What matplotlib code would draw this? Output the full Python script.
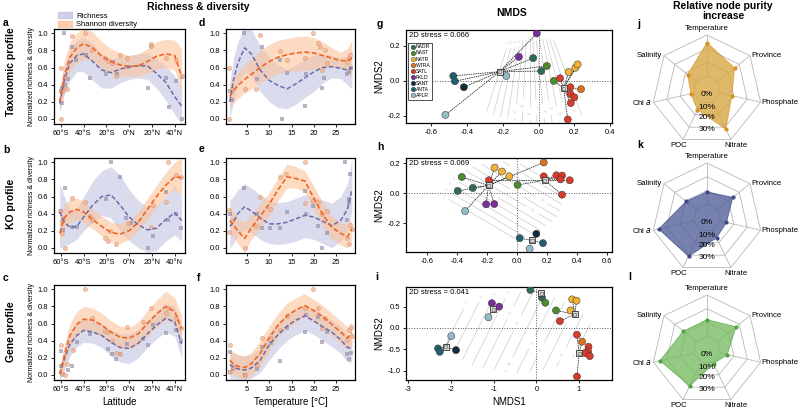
import numpy as np
import matplotlib
matplotlib.use("Agg")
import matplotlib.pyplot as plt
from matplotlib.patches import Patch, Polygon
from matplotlib.lines import Line2D

plt.rcParams['font.family'] = ['Liberation Sans', 'DejaVu Sans']
plt.rcParams['axes.unicode_minus'] = False

# ---------------- data: richness & diversity ----------------
lat_nodes = [-61, -57, -52, -46, -40, -32, -24, -16, -8, 0, 8, 16, 24, 32, 40, 46]
temp_nodes = [1.2, 2, 3, 4.5, 6, 8, 10, 12, 14, 16, 18, 20, 22, 24, 26, 27.5, 28.5]

# panel a (taxonomic, latitude)
a_r_mean = [0.18, 0.45, 0.65, 0.74, 0.76, 0.67, 0.57, 0.54, 0.58, 0.61, 0.62, 0.62, 0.53, 0.43, 0.26, 0.15]
a_r_lo = [0.08, 0.28, 0.45, 0.55, 0.55, 0.45, 0.36, 0.36, 0.42, 0.46, 0.48, 0.46, 0.36, 0.22, 0.05, -0.06]
a_r_hi = [0.32, 0.62, 0.82, 0.92, 0.95, 0.88, 0.76, 0.70, 0.72, 0.74, 0.76, 0.77, 0.70, 0.62, 0.50, 0.38]
a_s_mean = [0.20, 0.50, 0.72, 0.83, 0.88, 0.83, 0.73, 0.67, 0.63, 0.61, 0.62, 0.67, 0.73, 0.76, 0.74, 0.50]
a_s_lo = [0.08, 0.32, 0.55, 0.66, 0.70, 0.68, 0.58, 0.53, 0.50, 0.50, 0.50, 0.53, 0.58, 0.60, 0.57, 0.30]
a_s_hi = [0.32, 0.68, 0.90, 1.00, 1.06, 1.02, 0.90, 0.82, 0.77, 0.74, 0.76, 0.82, 0.90, 0.93, 0.92, 0.82]
a_rich_x = [-60, -59, -59, -56.5, -57, -53.6, -50, -47, -34, -38, -20, -14, -11, -1, 19.5, 16.6, 32.7, 35, 41.5, 46, 46]
a_rich_y = [0.33, 0.36, 0.19, 0.40, 1.00, 0.46, 0.84, 0.69, 0.48, 0.75, 0.53, 0.66, 0.52, 0.61, 0.85, 0.36, 0.48, 0.14, 0.44, 0.00, 0.49]
a_shan_x = [-60, -60, -59.4, -58, -55, -50, -39, -33, -21, -19, -15.5, -11.7, -8, -2, 19.5, 19.5, 32.7, 41.5, 46]
a_shan_y = [0.59, 0.00, 0.33, 0.36, 0.35, 0.97, 1.00, 0.81, 0.71, 0.68, 0.65, 0.50, 0.75, 0.71, 0.88, 0.85, 0.71, 0.69, 0.50]

# panel b (KO, latitude)
b_r_mean = [0.42, 0.30, 0.24, 0.25, 0.36, 0.50, 0.60, 0.62, 0.50, 0.36, 0.27, 0.21, 0.23, 0.33, 0.41, 0.32]
b_r_lo = [0.00, 0.02, 0.05, 0.10, 0.20, 0.30, 0.38, 0.35, 0.20, 0.08, 0.00, -0.05, -0.03, 0.08, 0.15, 0.08]
b_r_hi = [0.75, 0.60, 0.45, 0.45, 0.60, 0.78, 0.90, 0.95, 0.85, 0.68, 0.55, 0.48, 0.50, 0.60, 0.72, 0.60]
b_s_mean = [0.17, 0.35, 0.42, 0.45, 0.42, 0.33, 0.25, 0.18, 0.16, 0.20, 0.30, 0.45, 0.60, 0.73, 0.83, 0.82]
b_s_lo = [0.05, 0.22, 0.30, 0.33, 0.30, 0.22, 0.14, 0.07, 0.05, 0.10, 0.20, 0.33, 0.47, 0.60, 0.68, 0.62]
b_s_hi = [0.30, 0.50, 0.57, 0.58, 0.55, 0.45, 0.37, 0.30, 0.28, 0.32, 0.42, 0.58, 0.73, 0.88, 1.00, 1.05]
b_rich_x = [-60, -56.5, -58, -50.6, -46, -20, -15.6, -8.2, -3, 2, 21, 16.6, 32.7, 34, 41.5, 45.8]
b_rich_y = [0.43, 0.70, 0.21, 0.24, 0.24, 0.57, 1.00, 0.83, 0.35, 0.29, 0.14, 0.00, 0.65, 0.33, 0.40, 0.23]
b_shan_x = [-61, -59.4, -58.8, -56.5, -58, -50, -39, -34.6, -33, -21, -19, -11.7, -17, -1, 19.5, 21, 32.7, 34, 41.5, 45.8]
b_shan_y = [0.43, 0.31, 0.17, 0.00, 0.35, 0.58, 0.54, 0.37, 0.33, 0.12, 0.08, 0.04, 0.20, 0.29, 0.24, 0.50, 0.54, 1.00, 0.85, 0.83]

# panel c (gene, latitude)
c_r_mean = [0.01, 0.18, 0.36, 0.46, 0.52, 0.50, 0.46, 0.38, 0.32, 0.31, 0.37, 0.48, 0.58, 0.66, 0.62, 0.36]
c_r_lo = [-0.05, 0.05, 0.22, 0.33, 0.38, 0.37, 0.32, 0.22, 0.15, 0.13, 0.20, 0.32, 0.42, 0.50, 0.45, 0.20]
c_r_hi = [0.07, 0.32, 0.52, 0.60, 0.66, 0.64, 0.60, 0.52, 0.48, 0.48, 0.53, 0.64, 0.74, 0.83, 0.80, 0.54]
c_s_mean = [0.01, 0.22, 0.46, 0.59, 0.65, 0.64, 0.58, 0.50, 0.44, 0.43, 0.48, 0.60, 0.71, 0.80, 0.74, 0.54]
c_s_lo = [-0.05, 0.10, 0.32, 0.45, 0.52, 0.50, 0.45, 0.37, 0.31, 0.30, 0.35, 0.45, 0.56, 0.65, 0.58, 0.40]
c_s_hi = [0.07, 0.35, 0.60, 0.74, 0.80, 0.78, 0.72, 0.63, 0.57, 0.55, 0.62, 0.75, 0.87, 0.98, 0.90, 0.70]
c_rich_x = [-60, -60, -58, -53.6, -50.6, -46, -34, -18.5, -15.5, -11.7, -8.2, -2, 12, 16.6, 21, 32.7, 41.5, 45.8]
c_rich_y = [0.10, 0.28, 0.01, 0.06, 0.10, 0.38, 0.48, 0.30, 0.24, 0.19, 0.24, 0.36, 0.42, 0.35, 0.58, 0.49, 0.53, 0.40]
c_shan_x = [-60, -59.4, -56.5, -55, -49, -39, -33, -21, -19, -15.5, -11.7, -8.2, -2, 12, 19.5, 32.7, 34, 41.5, 45.8]
c_shan_y = [0.35, 0.015, 0.00, 0.13, 0.29, 1.00, 0.67, 0.51, 0.50, 0.40, 0.26, 0.24, 0.56, 0.62, 0.78, 0.72, 0.78, 0.67, 0.55]

# panel d (taxonomic, temperature)
d_r_mean = [0.20, 0.45, 0.65, 0.83, 0.76, 0.57, 0.45, 0.39, 0.35, 0.41, 0.48, 0.55, 0.60, 0.61, 0.59, 0.57, 0.60]
d_r_lo = [0.00, 0.20, 0.40, 0.55, 0.50, 0.32, 0.20, 0.13, 0.12, 0.17, 0.25, 0.32, 0.42, 0.48, 0.47, 0.40, 0.35]
d_r_hi = [0.42, 0.70, 0.90, 1.08, 1.05, 0.85, 0.72, 0.63, 0.58, 0.63, 0.70, 0.75, 0.76, 0.74, 0.72, 0.73, 0.82]
d_s_mean = [0.26, 0.33, 0.39, 0.46, 0.52, 0.60, 0.67, 0.72, 0.75, 0.77, 0.78, 0.77, 0.74, 0.71, 0.68, 0.68, 0.71]
d_s_lo = [0.12, 0.18, 0.24, 0.30, 0.35, 0.42, 0.48, 0.53, 0.55, 0.56, 0.57, 0.58, 0.60, 0.60, 0.60, 0.55, 0.48]
d_s_hi = [0.40, 0.48, 0.55, 0.63, 0.70, 0.80, 0.87, 0.92, 0.94, 0.96, 0.97, 0.95, 0.90, 0.83, 0.78, 0.82, 0.92]
d_rich_x = [1.3, 1.6, 4.4, 7.2, 8.4, 12.5, 12.8, 13.9, 18, 18.3, 21.8, 22.3, 27.4, 28.3, 27.8]
d_rich_y = [0.32, 0.22, 1.00, 0.46, 0.84, 0.69, 0.00, 0.54, 0.15, 0.53, 0.36, 0.48, 0.52, 0.59, 0.55]
d_shan_x = [1.1, 1.1, 1.6, 4.6, 7.1, 8.0, 12.5, 13.9, 18, 19.9, 21, 21.3, 21.8, 22.5, 22.9, 27.4, 27.8, 28.1]
d_shan_y = [0.00, 0.59, 0.35, 0.35, 0.35, 0.98, 0.79, 0.69, 0.71, 1.00, 0.89, 0.84, 0.57, 0.81, 0.65, 0.67, 0.71, 0.75]

# panel e (KO, temperature)
e_r_mean = [0.25, 0.30, 0.40, 0.48, 0.43, 0.35, 0.28, 0.28, 0.30, 0.34, 0.38, 0.36, 0.31, 0.26, 0.32, 0.45, 0.68]
e_r_lo = [0.00, 0.05, 0.15, 0.22, 0.18, 0.10, 0.05, 0.04, 0.05, 0.08, 0.12, 0.10, 0.05, 0.00, 0.08, 0.20, 0.42]
e_r_hi = [0.55, 0.60, 0.68, 0.75, 0.70, 0.62, 0.55, 0.53, 0.54, 0.58, 0.62, 0.60, 0.56, 0.52, 0.60, 0.75, 1.05]
e_s_mean = [0.32, 0.27, 0.20, 0.11, 0.23, 0.37, 0.51, 0.68, 0.83, 0.81, 0.78, 0.58, 0.39, 0.24, 0.17, 0.13, 0.22]
e_s_lo = [0.17, 0.12, 0.05, -0.05, 0.10, 0.22, 0.38, 0.55, 0.70, 0.70, 0.65, 0.45, 0.25, 0.10, 0.03, 0.00, 0.10]
e_s_hi = [0.47, 0.42, 0.35, 0.30, 0.38, 0.52, 0.65, 0.82, 0.98, 0.95, 0.90, 0.72, 0.53, 0.38, 0.30, 0.27, 0.35]
e_rich_x = [1.3, 4.4, 7.3, 8.4, 10.2, 12.5, 13.9, 18, 18.3, 19.9, 21, 21.8, 22.9, 27, 27.4, 27.8, 28.1, 27.8]
e_rich_y = [0.40, 0.70, 0.39, 0.23, 0.23, 0.23, 0.42, 0.67, 0.40, 0.49, 0.26, 0.00, 0.17, 1.00, 0.33, 0.57, 0.86, 0.53]
e_shan_x = [1.1, 1.1, 1.6, 4.6, 7.1, 8.0, 10.2, 12.5, 13.8, 18, 18, 19.7, 21, 21.8, 22.9, 27.4, 27.8, 28.1, 28.5]
e_shan_y = [0.44, 0.19, 0.32, 0.00, 0.26, 0.59, 0.45, 0.83, 0.86, 1.00, 0.53, 0.55, 0.54, 0.40, 0.43, 0.11, 0.05, 0.27, 0.22]

# panel f (gene, temperature)
f_r_mean = [0.12, 0.09, 0.07, 0.055, 0.08, 0.17, 0.35, 0.47, 0.57, 0.64, 0.69, 0.63, 0.56, 0.50, 0.41, 0.32, 0.31]
f_r_lo = [-0.05, -0.05, -0.06, -0.06, -0.04, 0.03, 0.17, 0.30, 0.40, 0.47, 0.52, 0.47, 0.40, 0.33, 0.25, 0.15, 0.15]
f_r_hi = [0.28, 0.25, 0.23, 0.22, 0.23, 0.32, 0.50, 0.62, 0.70, 0.77, 0.82, 0.77, 0.70, 0.64, 0.56, 0.46, 0.48]
f_s_mean = [0.17, 0.13, 0.10, 0.085, 0.13, 0.25, 0.43, 0.58, 0.69, 0.76, 0.81, 0.75, 0.68, 0.59, 0.50, 0.43, 0.49]
f_s_lo = [0.03, 0.00, -0.03, -0.05, -0.01, 0.10, 0.28, 0.44, 0.55, 0.62, 0.68, 0.62, 0.55, 0.46, 0.37, 0.30, 0.35]
f_s_hi = [0.30, 0.27, 0.24, 0.22, 0.26, 0.40, 0.57, 0.72, 0.84, 0.90, 0.95, 0.88, 0.81, 0.72, 0.63, 0.56, 0.62]
f_rich_x = [1.3, 1.3, 2.0, 4.6, 7.2, 8.4, 10.4, 12.5, 14, 18, 18.3, 21, 21.8, 22.9, 27.4, 27.8, 28.3]
f_rich_y = [0.27, 0.03, 0.065, 0.00, 0.065, 0.33, 0.37, 0.16, 0.55, 0.50, 0.70, 0.68, 0.38, 0.50, 0.24, 0.18, 0.25]
f_shan_x = [1.3, 1.3, 1.9, 4.6, 7.2, 8.4, 10.4, 12.5, 14, 18, 19.9, 21, 21.8, 22.5, 27.4, 27.8, 28.3, 28.5]
f_shan_y = [0.35, 0.03, 0.09, 0.00, 0.12, 0.43, 0.43, 0.53, 0.69, 0.78, 1.00, 0.78, 0.55, 0.66, 0.41, 0.52, 0.56, 0.45]

# ---------------- data: NMDS ----------------
provinces = ['NADR', 'NAST', 'NATR', 'WTRA', 'SATL', 'FKLD', 'SANT', 'ANTA', 'APLR']
prov_colors = ['#2e6b50', '#4c8c2c', '#f2b233', '#d8721e', '#d93b2a', '#7a2e9c', '#0f2d3a', '#1f6170', '#8fbcc5']

g_prov = ['FKLD', 'FKLD', 'NADR', 'NAST', 'NADR', 'NAST', 'ANTA', 'ANTA', 'SANT', 'APLR', 'APLR',
          'NATR', 'NATR', 'NATR', 'WTRA', 'SATL', 'SATL', 'SATL', 'SATL', 'SATL', 'SATL']
g_x = [-0.01, -0.11, -0.03, 0.046, 0.015, 0.085, -0.476, -0.467, -0.417, -0.18, -0.52,
       0.168, 0.206, 0.218, 0.237, 0.12, 0.178, 0.178, 0.20, 0.18, 0.163]
g_y = [0.27, 0.137, 0.13, 0.085, 0.056, 0.0, 0.028, -0.002, -0.036, 0.028, -0.194,
       0.051, 0.075, 0.094, -0.047, 0.015, -0.036, -0.075, -0.094, -0.126, -0.22]
g_grp = [0, 0, 0, 0, 0, 1, 0, 0, 0, 0, 0, 1, 1, 1, 1, 1, 1, 1, 1, 1, 1]
g_cx = [-0.217, 0.14]
g_cy = [0.053, -0.041]

h_prov = ['WTRA', 'NATR', 'NATR', 'NATR', 'NAST', 'NADR', 'NADR', 'NAST', 'SATL', 'SATL', 'SATL',
          'SATL', 'SATL', 'SATL', 'SATL', 'FKLD', 'FKLD', 'APLR', 'APLR', 'SANT', 'ANTA', 'ANTA']
h_x = [0.176, -0.151, -0.102, -0.053, -0.369, -0.396, -0.296, 0.002, -0.189, 0.176, 0.26,
       0.298, 0.287, 0.349, 0.298, -0.207, -0.153, -0.347, 0.082, 0.127, 0.016, 0.171]
h_y = [0.205, 0.171, 0.145, 0.113, 0.109, 0.016, 0.036, 0.056, 0.087, 0.113, 0.12,
       0.118, 0.093, 0.087, -0.009, -0.073, -0.071, -0.118, -0.369, -0.269, -0.298, -0.331]
h_grp = [0, 0, 0, 0, 0, 0, 0, 1, 1, 1, 1, 1, 1, 1, 1, 0, 0, 0, 2, 2, 2, 2]
h_cx = [-0.191, 0.182, 0.098]
h_cy = [0.053, 0.087, -0.313]

i_prov = ['NADR', 'NADR', 'NAST', 'NAST', 'NATR', 'NATR', 'NATR', 'SATL', 'SATL', 'WTRA', 'SATL',
          'SATL', 'SATL', 'SATL', 'SATL', 'FKLD', 'FKLD', 'APLR', 'APLR', 'ANTA', 'ANTA', 'SANT']
i_x = [-0.14, 0.13, 0.21, 0.46, 0.84, 0.94, 0.80, 0.55, 0.95, 1.07, 1.22,
       1.21, 1.15, 1.25, 0.95, -1.04, -0.87, -1.12, -1.99, -2.30, -2.26, -1.88]
i_y = [0.89, 0.71, 0.59, 0.41, 0.67, 0.64, 0.41, 0.16, -0.16, -0.32, -0.44,
       -0.55, -0.59, -0.66, -1.14, 0.58, 0.50, 0.25, -0.19, -0.48, -0.56, -0.52]
i_grp = [0, 0, 0, 1, 1, 1, 1, 1, 2, 2, 2, 2, 2, 2, 2, 3, 3, 3, 4, 4, 4, 4]
i_cx = [0.12, 0.90, 1.00, -1.01, -2.12]
i_cy = [0.81, 0.32, -0.59, 0.44, -0.44]

stress = [0.066, 0.069, 0.041]

# ---------------- data: radar (relative node purity increase, %) ----------------
radar_labels = ['Temperature', 'Province', 'Phosphate', 'Nitrate', 'POC', 'Chl $\\it{a}$', 'Salinity']
ring_values = [0, 10, 20, 30]
j_vals = [24.4, 15.7, 8.5, 21.5, 6.0, 2.0, 8.0]
k_vals = [9.0, 14.0, 4.5, 6.0, 21.0, 26.0, 9.4]
l_vals = [12.0, 17.0, 5.0, 1.0, 19.0, 25.0, 12.0]

# ---------------- styles ----------------
RICH_LINE, SHAN_LINE = '#6b6baa', '#f26522'
RICH_FILL, SHAN_FILL = '#c3c3e3', '#fcc29a'
GRID_GRAY = '#b8b8b8'
FS_TICK = 5.5

W, H = 799, 411
fig = plt.figure(figsize=(W / 100, H / 100), dpi=100)


def box(l, t, r, b):
    return [l / W, 1 - b / H, (r - l) / W, (b - t) / H]


def style_axes(ax):
    for s in ax.spines.values():
        s.set_linewidth(0.9)
    ax.tick_params(labelsize=FS_TICK, length=2.5, width=0.6, pad=1.5)


def rd_panel(ax, xn, rm, rlo, rhi, sm, slo, shi, rx, ry, sx, sy):
    ax.fill_between(xn, rlo, rhi, color=RICH_FILL, alpha=0.6, lw=0, zorder=1)
    ax.fill_between(xn, slo, shi, color=SHAN_FILL, alpha=0.6, lw=0, zorder=1)
    ax.scatter(rx, ry, marker='s', s=5, color='#9494ae', alpha=0.7, lw=0, zorder=2)
    ax.scatter(sx, sy, marker='o', s=9, facecolor='#f4b08c', edgecolor='#d0906a',
               lw=0.4, alpha=0.75, zorder=2)
    ax.plot(xn, rm, color=RICH_LINE, lw=1.1, ls=(0, (3, 1.5)), zorder=3)
    ax.plot(xn, sm, color=SHAN_LINE, lw=1.2, ls=(0, (3, 1.5)), zorder=3)
    ax.set_ylim(-0.06, 1.05)
    ax.set_yticks([0, 0.2, 0.4, 0.6, 0.8, 1.0])
    ax.set_yticklabels(['0.0', '0.2', '0.4', '0.6', '0.8', '1.0'])
    style_axes(ax)


lat_boxes = [box(54, 29, 185, 124), box(54, 158, 185, 253), box(54, 285, 185, 380)]
temp_boxes = [box(226, 29, 355, 124), box(226, 158, 355, 253), box(226, 285, 355, 380)]
lat_sets = [
    (a_r_mean, a_r_lo, a_r_hi, a_s_mean, a_s_lo, a_s_hi, a_rich_x, a_rich_y, a_shan_x, a_shan_y),
    (b_r_mean, b_r_lo, b_r_hi, b_s_mean, b_s_lo, b_s_hi, b_rich_x, b_rich_y, b_shan_x, b_shan_y),
    (c_r_mean, c_r_lo, c_r_hi, c_s_mean, c_s_lo, c_s_hi, c_rich_x, c_rich_y, c_shan_x, c_shan_y),
]
temp_sets = [
    (d_r_mean, d_r_lo, d_r_hi, d_s_mean, d_s_lo, d_s_hi, d_rich_x, d_rich_y, d_shan_x, d_shan_y),
    (e_r_mean, e_r_lo, e_r_hi, e_s_mean, e_s_lo, e_s_hi, e_rich_x, e_rich_y, e_shan_x, e_shan_y),
    (f_r_mean, f_r_lo, f_r_hi, f_s_mean, f_s_lo, f_s_hi, f_rich_x, f_rich_y, f_shan_x, f_shan_y),
]

for k in range(3):
    ax = fig.add_axes(lat_boxes[k])
    rd_panel(ax, lat_nodes, *lat_sets[k])
    ax.set_xlim(-66, 49)
    ax.set_xticks([-60, -40, -20, 0, 20, 40])
    ax.set_xticklabels(['60°S', '40°S', '20°S', '0°N', '20°N', '40°N'])
    ax.set_ylabel('Normalized richness & diversity', fontsize=5, labelpad=2)
    if k == 2:
        ax.set_xlabel('Latitude', fontsize=7, labelpad=3)

    ax = fig.add_axes(temp_boxes[k])
    rd_panel(ax, temp_nodes, *temp_sets[k])
    ax.set_xlim(0.35, 29.2)
    ax.set_xticks([5, 10, 15, 20, 25])
    if k == 2:
        ax.set_xlabel('Temperature [°C]', fontsize=7, labelpad=3)

# legend for richness/diversity
fig.legend(handles=[Patch(color=RICH_FILL, alpha=0.8, label='Richness'),
                    Patch(color=SHAN_FILL, alpha=0.8, label='Shannon diversity')],
           loc='upper left', bbox_to_anchor=(55 / W, 1 - 9 / H), frameon=False,
           fontsize=5.5, handlelength=1.8, handleheight=0.9, labelspacing=0.1,
           borderaxespad=0, handletextpad=0.6)


# ---------------- NMDS ----------------
def temp_surface(X, Y, kind):
    # rough ordisurf-like temperature surfaces
    if kind == 0:
        Z = 14 + 40 * np.arctan2(X + 0.05, 0.6 - Y)
        m = ((X - 0.0) / 0.42) ** 2 + ((Y + 0.0) / 0.24) ** 2 > 1
    elif kind == 1:
        Z = 14 + 45 * (0.51 * X + 0.86 * Y)
        m = ((X + 0.1) / 0.4) ** 2 + ((Y + 0.05) / 0.26) ** 2 > 1
    else:
        Z = 15.5 + 7.0 * (X - 0.5 * Y)
        m = ((X + 0.45) / 1.75) ** 2 + ((Y + 0.1) / 0.95) ** 2 > 1
    return np.ma.array(Z, mask=m)


nmds_boxes = [box(406, 30, 612, 123), box(406, 158, 612, 252), box(406, 287, 612, 380)]
nmds_sets = [(g_x, g_y, g_prov, g_grp, g_cx, g_cy),
             (h_x, h_y, h_prov, h_grp, h_cx, h_cy),
             (i_x, i_y, i_prov, i_grp, i_cx, i_cy)]
nmds_xlim = [(-0.74, 0.41), (-0.74, 0.63), (-3.05, 1.77)]
nmds_ylim = [(-0.24, 0.29), (-0.39, 0.235), (-1.22, 0.96)]
nmds_xt = [[-0.6, -0.4, -0.2, 0.0, 0.2, 0.4], [-0.6, -0.4, -0.2, 0.0, 0.2, 0.4, 0.6], [-3, -2, -1, 0, 1]]
nmds_yt = [[-0.2, 0.0, 0.2], [-0.2, 0.0, 0.2], [-1.0, -0.5, 0.0, 0.5]]

for k in range(3):
    ax = fig.add_axes(nmds_boxes[k])
    xs, ys, pv, gr, cx, cy = nmds_sets[k]
    ax.set_xlim(*nmds_xlim[k])
    ax.set_ylim(*nmds_ylim[k])
    gx = np.linspace(*nmds_xlim[k], 200)
    gy = np.linspace(*nmds_ylim[k], 200)
    X, Y = np.meshgrid(gx, gy)
    Z = temp_surface(X, Y, k)
    cs = ax.contour(X, Y, Z, levels=np.arange(2, 30, 2), colors='#cccccc', linewidths=0.5, zorder=1)
    ax.clabel(cs, fontsize=2.8, colors='#d4d4d4', fmt='%d', inline=True)
    ax.axhline(0, color='#555555', ls=':', lw=0.7, zorder=1)
    ax.axvline(0, color='#555555', ls=':', lw=0.7, zorder=1)
    for x, y, g in zip(xs, ys, gr):
        ax.plot([cx[g], x], [cy[g], y], color='#222222', ls=(0, (2, 1)), lw=0.55, zorder=2)
    cols = [prov_colors[provinces.index(p)] for p in pv]
    ax.scatter(xs, ys, s=26, c=cols, edgecolor='#333333', lw=0.35, zorder=3)
    ax.scatter(cx, cy, marker='s', s=22, facecolor='#d6d6d6', edgecolor='#333333', lw=0.6, zorder=4)
    ax.scatter(cx, cy, marker='s', s=5, facecolor='none', edgecolor='#555555', lw=0.4, zorder=5)
    ax.set_xticks(nmds_xt[k])
    ax.set_yticks(nmds_yt[k])
    if k < 2:
        ax.set_xticklabels(['%.1f' % v for v in nmds_xt[k]])
        ax.set_yticklabels(['%.1f' % v for v in nmds_yt[k]])
    else:
        ax.set_xticklabels(['%d' % v for v in nmds_xt[k]])
        ax.set_yticklabels(['%.1f' % v for v in nmds_yt[k]])
        ax.set_xlabel('NMDS1', fontsize=7, labelpad=3)
    ax.set_ylabel('NMDS2', fontsize=7, labelpad=2)
    ax.text(0.015, 0.975, '2D stress = %.3f' % stress[k], transform=ax.transAxes,
            fontsize=5.5, va='top', ha='left', zorder=6)
    style_axes(ax)
    if k == 0:
        handles = [Line2D([], [], marker='o', ls='', markersize=3.3, markerfacecolor=c,
                          markeredgecolor='#333333', markeredgewidth=0.3, label=p)
                   for p, c in zip(provinces, prov_colors)]
        leg = ax.legend(handles=handles, loc='upper left', bbox_to_anchor=(0.012, 0.865),
                        fontsize=3.6, labelspacing=0.22, handletextpad=0.1, borderpad=0.35,
                        handlelength=1.0, frameon=True, fancybox=False, borderaxespad=0)
        leg.get_frame().set_edgecolor('#222222')
        leg.get_frame().set_linewidth(0.7)
        leg.set_zorder(7)

# ---------------- radar charts ----------------
R_MIN, R_MAX = -10, 30
pct_label_r = [0.09, 0.31, 0.50, 0.71]
label_offsets = [(0, 0.05, 'center', 'bottom'), (0.03, 0, 'left', 'center'),
                 (0.02, 0, 'left', 'center'), (0.1, -0.05, 'center', 'top'),
                 (-0.08, -0.05, 'center', 'top'), (-0.03, 0, 'right', 'center'),
                 (-0.03, 0, 'right', 'center')]


def radar(ax, vals, fill, edge):
    n = len(vals)
    ang = np.pi / 2 - 2 * np.pi * np.arange(n) / n
    r0 = (ring_values[0] - R_MIN) / (R_MAX - R_MIN)
    for rv in ring_values:
        r = (rv - R_MIN) / (R_MAX - R_MIN)
        ax.add_patch(Polygon(np.c_[r * np.cos(ang), r * np.sin(ang)], closed=True,
                             fill=False, ec=GRID_GRAY, lw=0.6, zorder=1))
    for a in ang:
        ax.plot([r0 * np.cos(a), np.cos(a)], [r0 * np.sin(a), np.sin(a)], color=GRID_GRAY, lw=0.6, zorder=1)
    r = (np.array(vals) - R_MIN) / (R_MAX - R_MIN)
    px, py = r * np.cos(ang), r * np.sin(ang)
    ax.add_patch(Polygon(np.c_[px, py], closed=True, fc=fill, ec=edge, lw=0.6, alpha=0.78, zorder=2))
    ax.scatter(px, py, s=4, color=edge, zorder=3)
    for rv, yl in zip(ring_values, pct_label_r):
        ax.text(0, -yl, '%d%%' % rv, fontsize=6, ha='center', va='center', zorder=4)
    for a, lab, (dx, dy, ha, va) in zip(ang, radar_labels, label_offsets):
        ax.text(np.cos(a) + dx, np.sin(a) + dy, lab, fontsize=5.6, ha=ha, va=va, zorder=4)
    ax.set_xlim(-80 / 55, 80 / 55)
    ax.set_ylim(-65 / 55, 65 / 55)
    ax.axis('off')


radar_sets = [(j_vals, '#d8a540', '#d39422', 90),
              (k_vals, '#4f5e98', '#3b4a88', 218),
              (l_vals, '#76bb62', '#4fa53c', 350)]
for vals, fc, ec, cyp in radar_sets:
    ax = fig.add_axes(box(627, cyp - 65, 787, cyp + 65))
    radar(ax, vals, fc, ec)

# ---------------- headers, row labels, panel letters ----------------
fig.text(198 / W, 1 - 7 / H, 'Richness & diversity', fontsize=7.5, fontweight='bold', ha='center', va='center')
fig.text(512 / W, 1 - 13 / H, 'NMDS', fontsize=7.5, fontweight='bold', ha='center', va='center')
fig.text(723 / W, 1 - 11 / H, 'Relative node purity\nincrease', fontsize=7.5, fontweight='bold',
         ha='center', va='center', linespacing=0.95)

for y, lab in [(72, 'Taxonomic profile'), (204, 'KO profile'), (332, 'Gene profile')]:
    fig.text(11 / W, 1 - y / H, lab, fontsize=7.5, fontweight='bold', rotation=90, ha='center', va='center')

letters = [('a', 3, 23), ('d', 199, 23), ('g', 377, 24), ('j', 637, 24),
           ('b', 3, 150), ('e', 199, 149), ('h', 377, 147), ('k', 637, 145),
           ('c', 3, 278), ('f', 197, 278), ('i', 375, 277), ('l', 628, 277)]
for t, x, y in letters:
    fig.text(x / W, 1 - y / H, t, fontsize=7.5, fontweight='bold', ha='left', va='center')

fig.savefig('out.png', dpi=100)
